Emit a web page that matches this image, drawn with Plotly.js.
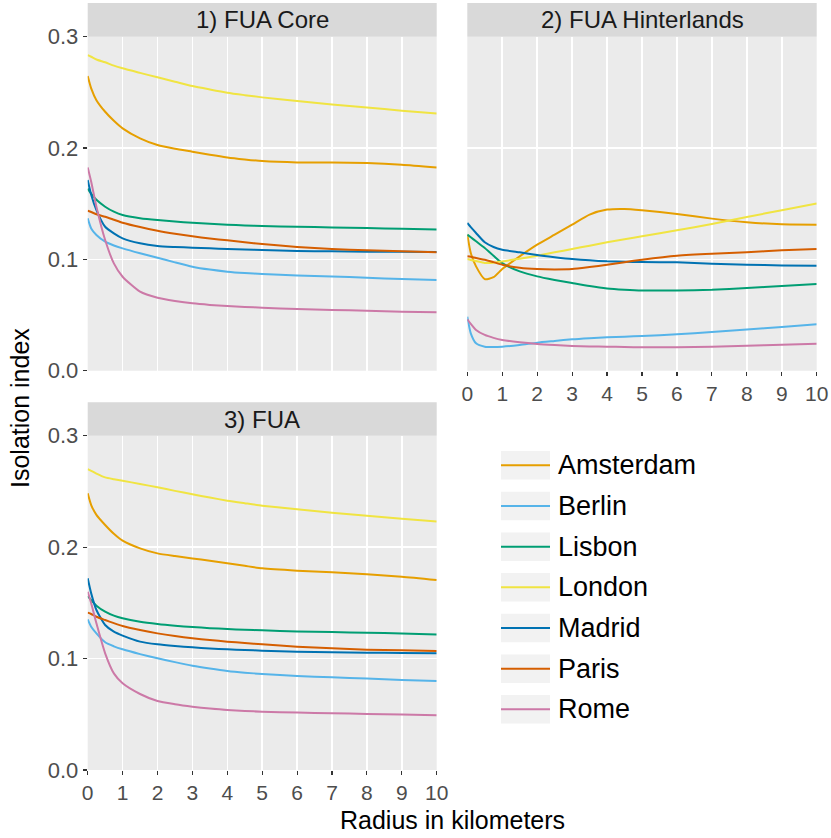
<!DOCTYPE html>
<html>
<head>
<meta charset="utf-8">
<script src="https://cdn.plot.ly/plotly-3.0.1.min.js"></script>
<style>html,body{margin:0;padding:0;background:#fff;}#chart{width:831px;height:838px;}</style>
</head>
<body>
<div id="chart"></div>
<script>
// ---------- data ----------
const cities = ["Amsterdam", "Berlin", "Lisbon", "London", "Madrid", "Paris", "Rome"];
const colors = ["#E69F00", "#56B4E9", "#009E73", "#F0E442", "#0072B2", "#D55E00", "#CC79A7"];
const panels = ["1) FUA Core", "2) FUA Hinterlands", "3) FUA"];
const radius = [0, 0.1, 0.25, 0.5, 0.75, 1, 1.5, 2, 2.5, 3, 3.5, 4, 4.5, 5, 6, 7, 8, 9, 10];
const xTicks = [0, 1, 2, 3, 4, 5, 6, 7, 8, 9, 10];
const yTicks = [0, 0.1, 0.2, 0.3];

// 1) FUA Core
const coreAmsterdam = [0.2647, 0.2536, 0.2430, 0.2326, 0.2245, 0.2177, 0.2087, 0.2027, 0.1993, 0.1967, 0.1940, 0.1916, 0.1898, 0.1883, 0.1871, 0.1871, 0.1865, 0.1850, 0.1826];
const coreBerlin    = [0.1368, 0.1278, 0.1219, 0.1159, 0.1125, 0.1099, 0.1055, 0.1015, 0.0973, 0.0934, 0.0908, 0.0889, 0.0877, 0.0868, 0.0856, 0.0847, 0.0835, 0.0823, 0.0814];
const coreLisbon    = [0.1635, 0.1590, 0.1535, 0.1473, 0.1428, 0.1398, 0.1370, 0.1353, 0.1340, 0.1329, 0.1319, 0.1311, 0.1305, 0.1299, 0.1293, 0.1287, 0.1281, 0.1275, 0.1269];
const coreLondon    = [0.2835, 0.2820, 0.2795, 0.2770, 0.2740, 0.2716, 0.2675, 0.2635, 0.2596, 0.2557, 0.2526, 0.2497, 0.2475, 0.2455, 0.2422, 0.2392, 0.2365, 0.2335, 0.2311];
const coreMadrid    = [0.1713, 0.1580, 0.1443, 0.1293, 0.1234, 0.1189, 0.1144, 0.1120, 0.1111, 0.1105, 0.1099, 0.1093, 0.1088, 0.1084, 0.1075, 0.1072, 0.1069, 0.1069, 0.1066];
const coreParis     = [0.1437, 0.1425, 0.1405, 0.1383, 0.1356, 0.1329, 0.1290, 0.1257, 0.1230, 0.1207, 0.1188, 0.1171, 0.1154, 0.1138, 0.1111, 0.1093, 0.1081, 0.1072, 0.1063];
const coreRome      = [0.1826, 0.1698, 0.1473, 0.1174, 0.0964, 0.0844, 0.0710, 0.0656, 0.0627, 0.0605, 0.0591, 0.0581, 0.0573, 0.0566, 0.0554, 0.0545, 0.0539, 0.0530, 0.0524];

// 2) FUA Hinterlands
const hintAmsterdam = [0.1222, 0.1057, 0.0937, 0.0823, 0.0840, 0.0913, 0.1027, 0.1132, 0.1222, 0.1312, 0.1402, 0.1447, 0.1453, 0.1441, 0.1408, 0.1366, 0.1333, 0.1315, 0.1312];
const hintBerlin    = [0.0486, 0.0336, 0.0246, 0.0216, 0.0213, 0.0216, 0.0231, 0.0252, 0.0267, 0.0282, 0.0292, 0.0300, 0.0306, 0.0312, 0.0327, 0.0348, 0.0369, 0.0393, 0.0417];
const hintLisbon    = [0.1222, 0.1198, 0.1162, 0.1102, 0.1033, 0.0967, 0.0892, 0.0847, 0.0815, 0.0787, 0.0760, 0.0739, 0.0728, 0.0721, 0.0721, 0.0727, 0.0742, 0.0760, 0.0778];
const hintLondon    = [0.1003, 0.0995, 0.0985, 0.0967, 0.0970, 0.0982, 0.1005, 0.1033, 0.1063, 0.1093, 0.1123, 0.1153, 0.1180, 0.1207, 0.1261, 0.1318, 0.1381, 0.1441, 0.1502];
const hintMadrid    = [0.1327, 0.1290, 0.1237, 0.1153, 0.1111, 0.1087, 0.1063, 0.1039, 0.1020, 0.1003, 0.0991, 0.0982, 0.0978, 0.0976, 0.0973, 0.0961, 0.0952, 0.0946, 0.0943];
const hintParis     = [0.1027, 0.1023, 0.1012, 0.0997, 0.0975, 0.0952, 0.0925, 0.0913, 0.0910, 0.0913, 0.0931, 0.0952, 0.0975, 0.0997, 0.1033, 0.1051, 0.1063, 0.1081, 0.1093];
const hintRome      = [0.0462, 0.0420, 0.0366, 0.0321, 0.0295, 0.0276, 0.0255, 0.0240, 0.0230, 0.0222, 0.0218, 0.0216, 0.0213, 0.0210, 0.0210, 0.0216, 0.0225, 0.0234, 0.0243];

// 3) FUA
const fuaAmsterdam = [0.2483, 0.2378, 0.2290, 0.2199, 0.2120, 0.2058, 0.1989, 0.1944, 0.1920, 0.1899, 0.1877, 0.1855, 0.1832, 0.1810, 0.1789, 0.1774, 0.1756, 0.1735, 0.1705];
const fuaBerlin    = [0.1352, 0.1286, 0.1226, 0.1146, 0.1110, 0.1083, 0.1040, 0.1002, 0.0968, 0.0936, 0.0910, 0.0888, 0.0873, 0.0862, 0.0844, 0.0832, 0.0820, 0.0808, 0.0799];
const fuaLisbon    = [0.1561, 0.1525, 0.1475, 0.1421, 0.1385, 0.1361, 0.1330, 0.1310, 0.1295, 0.1283, 0.1273, 0.1265, 0.1259, 0.1253, 0.1244, 0.1238, 0.1232, 0.1226, 0.1217];
const fuaLondon    = [0.2701, 0.2685, 0.2660, 0.2626, 0.2610, 0.2596, 0.2567, 0.2537, 0.2505, 0.2474, 0.2445, 0.2417, 0.2394, 0.2372, 0.2339, 0.2309, 0.2282, 0.2255, 0.2229];
const fuaMadrid    = [0.1720, 0.1585, 0.1436, 0.1301, 0.1241, 0.1206, 0.1152, 0.1128, 0.1113, 0.1101, 0.1091, 0.1083, 0.1077, 0.1071, 0.1062, 0.1056, 0.1053, 0.1050, 0.1047];
const fuaParis     = [0.1412, 0.1400, 0.1375, 0.1346, 0.1318, 0.1292, 0.1256, 0.1226, 0.1202, 0.1182, 0.1166, 0.1152, 0.1140, 0.1128, 0.1107, 0.1092, 0.1080, 0.1074, 0.1068];
const fuaRome      = [0.1600, 0.1496, 0.1316, 0.1047, 0.0867, 0.0778, 0.0682, 0.0619, 0.0590, 0.0568, 0.0551, 0.0538, 0.0530, 0.0523, 0.0515, 0.0509, 0.0503, 0.0497, 0.0491];

const panelSeries = [
  [coreAmsterdam, coreBerlin, coreLisbon, coreLondon, coreMadrid, coreParis, coreRome],
  [hintAmsterdam, hintBerlin, hintLisbon, hintLondon, hintMadrid, hintParis, hintRome],
  [fuaAmsterdam, fuaBerlin, fuaLisbon, fuaLondon, fuaMadrid, fuaParis, fuaRome]
];

// ---------- layout helpers ----------
const W = 831, H = 838;
const px = v => v / W;
const py = v => 1 - v / H;
const FONT = "Liberation Sans, Arial, sans-serif";

const axisRefs = [["x", "y"], ["x2", "y2"], ["x3", "y3"]];
const traces = [];
panelSeries.forEach((series, p) => {
  series.forEach((vals, i) => {
    traces.push({
      type: "scatter", mode: "lines",
      x: radius, y: vals,
      xaxis: axisRefs[p][0], yaxis: axisRefs[p][1],
      name: cities[i], showlegend: false,
      line: {color: colors[i], width: 2, shape: "spline", smoothing: 0.6},
      hoverinfo: "skip"
    });
  });
});

function xAxis(domain, showLabels, anchor) {
  return {
    domain: domain, anchor: anchor, range: [0, 10], tickvals: xTicks,
    ticktext: xTicks.map(String), showticklabels: showLabels,
    ticks: showLabels ? "outside" : "", ticklen: 4, tickwidth: 1.2, tickcolor: "#333333",
    tickfont: {family: FONT, size: 21, color: "#4d4d4d"},
    showgrid: true, gridcolor: "#ffffff", gridwidth: 1.6,
    zeroline: false, showline: false, fixedrange: true
  };
}
function yAxis(domain, showLabels, anchor) {
  return {
    domain: domain, anchor: anchor, range: [0, 0.3], tickvals: yTicks,
    ticktext: yTicks.map(v => v.toFixed(1)), showticklabels: showLabels,
    ticks: showLabels ? "outside" : "", ticklen: 4, tickwidth: 1.2, tickcolor: "#333333",
    tickfont: {family: FONT, size: 22, color: "#4d4d4d"},
    showgrid: true, gridcolor: "#ffffff", gridwidth: 1.6,
    zeroline: false, showline: false, fixedrange: true
  };
}

const xd1 = [px(87.7), px(436.7)], xd2 = [px(467.3), px(816.7)];
const yd1 = [py(370.7), py(36.7)], yd3 = [py(770), py(435.7)];

const shapes = [];
const annotations = [];
// plot backgrounds and strips
const panelBoxes = [[xd1, yd1, 3], [xd2, yd1, 3], [xd1, yd3, 402.3]];
panelBoxes.forEach(([xd, yd, stripTop], p) => {
  shapes.push({type: "rect", xref: "paper", yref: "paper", x0: xd[0], x1: xd[1], y0: yd[0], y1: yd[1],
    fillcolor: "#ebebeb", line: {width: 0}, layer: "below"});
  shapes.push({type: "rect", xref: "paper", yref: "paper", x0: xd[0], x1: xd[1], y0: yd[1], y1: py(stripTop),
    fillcolor: "#d9d9d9", line: {width: 0}, layer: "below"});
  annotations.push({xref: "paper", yref: "paper", x: (xd[0] + xd[1]) / 2, y: (yd[1] + py(stripTop)) / 2,
    text: panels[p], showarrow: false, xanchor: "center", yanchor: "middle",
    font: {family: FONT, size: 24, color: "#1a1a1a"}});
});

// legend (built from cities/colors)
const legRow0 = 465.3, legStep = 40.67, keyL = 501, keyR = 550, keyH = 28.5;
cities.forEach((c, i) => {
  const cy = legRow0 + i * legStep;
  shapes.push({type: "rect", xref: "paper", yref: "paper", x0: px(keyL), x1: px(keyR),
    y0: py(cy + keyH / 2), y1: py(cy - keyH / 2), fillcolor: "#f2f2f2", line: {width: 0}});
  shapes.push({type: "line", xref: "paper", yref: "paper", x0: px(keyL), x1: px(keyR),
    y0: py(cy), y1: py(cy), line: {color: colors[i], width: 2}});
  annotations.push({xref: "paper", yref: "paper", x: px(555.5), y: py(cy), text: c, showarrow: false,
    xanchor: "left", yanchor: "middle", font: {family: FONT, size: 27, color: "#000000"}});
});

// axis titles
annotations.push({xref: "paper", yref: "paper", x: px(452), y: py(820), text: "Radius in kilometers",
  showarrow: false, xanchor: "center", yanchor: "middle", font: {family: FONT, size: 25, color: "#000000"}});
annotations.push({xref: "paper", yref: "paper", x: px(20), y: py(408), text: "Isolation index", textangle: -90,
  showarrow: false, xanchor: "center", yanchor: "middle", font: {family: FONT, size: 25, color: "#000000"}});

const layout = {
  width: W, height: H,
  margin: {l: 0, r: 0, t: 0, b: 0},
  paper_bgcolor: "#ffffff", plot_bgcolor: "rgba(0,0,0,0)",
  showlegend: false,
  xaxis: xAxis(xd1, false, "y"),
  yaxis: yAxis(yd1, true, "x"),
  xaxis2: xAxis(xd2, true, "y2"),
  yaxis2: yAxis(yd1, false, "x2"),
  xaxis3: xAxis(xd1, true, "y3"),
  yaxis3: yAxis(yd3, true, "x3"),
  shapes: shapes,
  annotations: annotations
};

Plotly.newPlot("chart", traces, layout, {staticPlot: true, displayModeBar: false});
</script>
</body>
</html>
